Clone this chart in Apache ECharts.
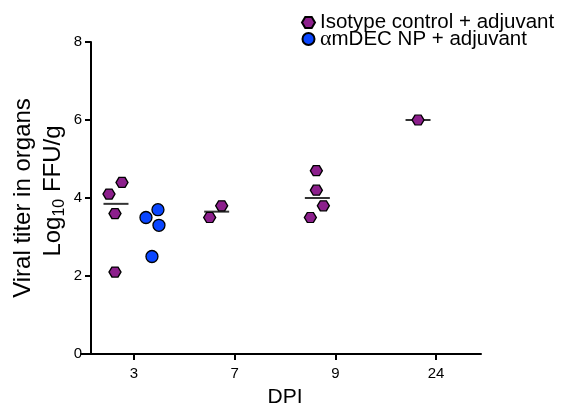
<!DOCTYPE html>
<html><head><meta charset="utf-8">
<script src="https://cdn.jsdelivr.net/npm/echarts@6/dist/echarts.min.js"></script>
<style>html,body{margin:0;padding:0;background:#fff}#c{width:566px;height:414px}</style>
</head><body><div id="c"></div>
<script>
// ---- data ----
const categories = ['3', '7', '9', '24'];
const isotypeValues = [[4.4, 4.1, 3.6, 2.1], [3.8, 3.5], [4.7, 4.2, 3.8, 3.5], [6.0]];
const amdecValues = [[3.7, 3.5, 3.3, 2.5], [], [], []];
const yTicks = [0, 2, 4, 6, 8];
const seriesNames = ['Isotype control + adjuvant', 'αmDEC NP + adjuvant'];
// horizontal scatter jitter of each point (px, relative to the category tick)
const isotypeJitter = [[-12, -25, -19, -19], [-13, -25], [-19, -19, -12, -25], [-18]];
const amdecJitter = [[24, 12, 25, 18], [], [], []];
const medianOffset = -18;

// ---- layout ----
const PX = 100.75;               // px per category
const FONT = "'Liberation Sans', Arial, Helvetica, sans-serif";
const HEX = 'path://M0,5 L3,0 L9,0 L12,5 L9,10 L3,10 Z';

function median(a) {
  const s = a.slice().sort((x, y) => x - y);
  const n = s.length;
  return n % 2 ? s[(n - 1) / 2] : (s[n / 2 - 1] + s[n / 2]) / 2;
}
function points(vals, jit) {
  const out = [];
  vals.forEach((g, i) => g.forEach((v, j) => out.push([i + 1 + jit[i][j] / PX, v])));
  return out;
}
const medians = isotypeValues.map((g, i) => [i + 1 + medianOffset / PX, median(g)]);

const chart = echarts.init(document.getElementById('c'), null, { renderer: 'canvas' });
chart.setOption({
  animation: false,
  backgroundColor: '#fff',
  textStyle: { fontFamily: FONT },
  grid: [
    { left: 91, right: 85, top: 42, bottom: 60, containLabel: false, outerBoundsMode: 'none' },
    { left: 81, right: 85, top: 42, bottom: 60, containLabel: false, outerBoundsMode: 'none' }
  ],
  legend: {
    orient: 'vertical', left: 296, top: 7, itemGap: -5,
    itemWidth: 13, itemHeight: 12, itemTextGap: 12,
    data: seriesNames,
    formatter: n => n.charAt(0) === 'α' ? '{a|α}{t|' + n.slice(1) + '}' : '{t|' + n + '}',
    textStyle: {
      fontSize: 20.5, color: '#000', fontFamily: FONT, lineHeight: 19,
      rich: {
        t: { fontSize: 20.5, fontFamily: FONT, color: '#000', lineHeight: 19 },
        a: { fontSize: 22, fontFamily: "'Liberation Serif', 'DejaVu Serif', serif", color: '#000', lineHeight: 19 }
      }
    }
  },
  xAxis: [
    {
      gridIndex: 0, type: 'value', show: false,
      min: 1 - 43 / PX, max: 4 + 45 / PX
    },
    {
      gridIndex: 1, type: 'value',
      min: 1 - 53 / PX, max: 4 + 45 / PX,
      splitLine: { show: false },
      axisLine: { lineStyle: { color: '#000', width: 2 } },
      axisTick: { length: 6, lineStyle: { color: '#000', width: 2 }, customValues: [1, 2, 3, 4] },
      axisLabel: {
        customValues: [1, 2, 3, 4], fontSize: 15, color: '#000', margin: 12, fontFamily: FONT,
        formatter: v => categories[Math.round(v) - 1]
      },
      name: 'DPI', nameLocation: 'middle', nameGap: 33,
      nameTextStyle: { fontSize: 21, color: '#000', fontFamily: FONT, padding: [0, 0, 0, 8] }
    }
  ],
  yAxis: [
    {
      gridIndex: 0, type: 'value', min: yTicks[0], max: yTicks[yTicks.length - 1], interval: 2,
      splitLine: { show: false },
      axisLine: { show: true, lineStyle: { color: '#000', width: 2 } },
      axisTick: { show: true, length: 6, lineStyle: { color: '#000', width: 2 } },
      axisLabel: { fontSize: 15, color: '#000', margin: 9, fontFamily: FONT },
      name: '{t|Viral titer in organs}\n{l0|Log}{s|10}{l| FFU/g}',
      nameLocation: 'middle', nameRotate: 90, nameGap: 23, nameMoveOverlap: false,
      nameTextStyle: {
        fontSize: 24, color: '#000', fontFamily: FONT, lineHeight: 30, align: 'center',
        rich: {
          t: { fontSize: 24, fontFamily: FONT, color: '#000', lineHeight: 30 },
          l0: { fontSize: 24, fontFamily: FONT, color: '#000', lineHeight: 30, padding: [0, 0, 0, 14] },
          l: { fontSize: 24, fontFamily: FONT, color: '#000', lineHeight: 30 },
          s: { fontSize: 16, fontFamily: FONT, color: '#000', lineHeight: 16, verticalAlign: 'bottom' }
        }
      }
    },
    { gridIndex: 1, type: 'value', min: 0, max: 8, show: false }
  ],
  series: [
    {
      name: 'median', type: 'scatter', symbol: 'rect', symbolSize: [25, 2],
      xAxisIndex: 0, yAxisIndex: 0,
      itemStyle: { color: '#000' }, data: medians, z: 1, silent: true
    },
    {
      name: seriesNames[0], type: 'scatter', symbol: HEX, symbolSize: [12, 10],
      xAxisIndex: 0, yAxisIndex: 0,
      itemStyle: { color: '#8C1F8C', borderColor: '#000', borderWidth: 1.3, opacity: 1 },
      data: points(isotypeValues, isotypeJitter), z: 3
    },
    {
      name: seriesNames[1], type: 'scatter', symbol: 'circle', symbolSize: 12,
      xAxisIndex: 0, yAxisIndex: 0,
      itemStyle: { color: '#0A46FF', borderColor: '#000', borderWidth: 1.3, opacity: 1 },
      data: points(amdecValues, amdecJitter), z: 3
    }
  ]
});
</script>
</body></html>
